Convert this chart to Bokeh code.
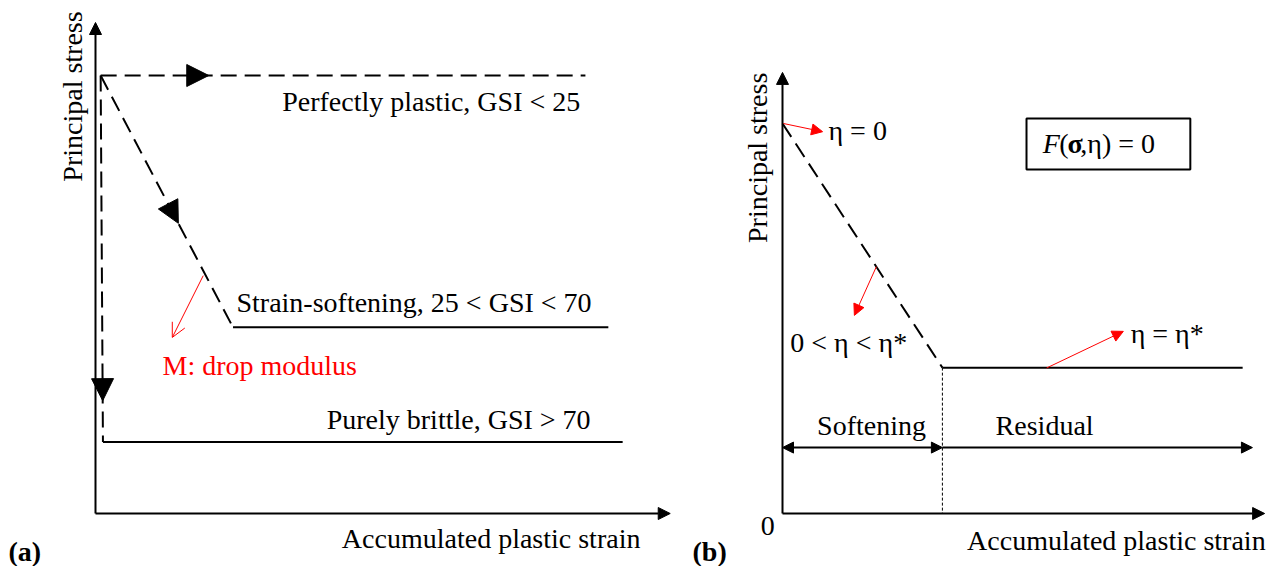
from bokeh.plotting import figure
from bokeh.layouts import row
from bokeh.models import Arrow, NormalHead, OpenHead
from bokeh.core.properties import value
from bokeh.embed import file_html
from bokeh.resources import INLINE

FONT = value("Liberation Serif")
FS = "28px"

# ---------------- Panel (a): normalised units (strain 0-100, stress 0-100) ----------------
a_axis_x_end = 100.3
a_axis_y_end = 112.1
a_plastic_x = [0.9, 85.5]
a_plastic_y = [100.0, 100.0]
a_soft_dash_x = [0.9, 24.0]
a_soft_dash_y = [100.0, 42.5]
a_soft_res_x = [24.0, 89.5]
a_soft_res_y = [42.5, 42.5]
a_brit_dash_x = [0.9, 1.3]
a_brit_dash_y = [100.0, 16.3]
a_brit_res_x = [1.3, 92.0]
a_brit_res_y = [16.3, 16.3]
a_arrow_frac = [0.223, 0.587, 0.887]
a_red_x = [18.8, 13.4]
a_red_y = [54.3, 40.2]

a_labels = ["Perfectly plastic, GSI < 25", "Strain-softening, 25 < GSI < 70",
            "Purely brittle, GSI > 70", "Accumulated plastic strain"]
a_label_x = [84.6, 24.6, 86.4, 95.1]
a_label_y = [94.0, 48.2, 21.5, -5.7]
a_label_align = ["right", "left", "right", "right"]
a_red_label = "M: drop modulus"
a_red_label_xy = (11.7, 33.8)
a_ylabel_xy = (-4.0, 95.2)
a_tag_xy = (-15.2, -8.7)

# ---------------- Panel (b) ----------------
b_axis_x_end = 98.6
b_axis_y_end = 113.1
b_soft_x = [0.0, 32.7]
b_soft_y = [100.0, 37.4]
b_res_x = [32.7, 94.1]
b_res_y = [37.4, 37.4]
b_split_x = 32.7
b_dim_y = 16.9
b_dim_end = 96.1
b_red_start_x = [0.2, 19.2, 54.0]
b_red_start_y = [100.0, 63.3, 37.3]
b_red_end_x = [8.2, 14.7, 69.7]
b_red_end_y = [97.9, 50.8, 46.7]
b_labels = ["η = 0", "0 < η < η*", "η = η*"]
b_label_x = [9.4, 1.6, 71.2]
b_label_y = [98.2, 43.8, 46.2]
b_zone_labels = ["Softening", "Residual"]
b_zone_x = [18.2, 53.6]
b_zone_y = [22.6, 22.6]
b_box = (49.9, 83.4, 88.2, 101.3)  # left, right, bottom, top
b_eq_y = 94.9
b_eq_parts = ["F", "(", "σ", ",η) = 0"]
b_eq_x = [53.2, 56.6, 58.3, 60.9]
b_eq_style = ["italic", "normal", "bold", "normal"]
b_zero_xy = (-3.0, -3.1)
b_xlabel_xy = (98.8, -6.9)
b_ylabel_xy = (-5.1, 91.2)
b_tag_xy = (-18.4, -9.7)


def make_fig(px_left, px_right, ox, oy, sx, sy):
    w = px_right - px_left
    x0 = (px_left - ox) / sx
    x1 = (px_right - ox) / sx
    y0 = (oy - 566) / sy
    y1 = oy / sy
    p = figure(width=w, height=566, x_range=(x0, x1), y_range=(y0, y1),
               output_backend="svg", toolbar_location=None,
               x_axis_type=None, y_axis_type=None, min_border=0)
    p.outline_line_color = None
    p.background_fill_color = "white"
    p.border_fill_color = "white"
    return p


def axes_arrows(p, xe, ye):
    p.add_layout(Arrow(end=NormalHead(size=12, fill_color="black", line_color="black"),
                       x_start=0, y_start=0, x_end=xe, y_end=0,
                       line_width=2, line_color="black"))
    p.add_layout(Arrow(end=NormalHead(size=12, fill_color="black", line_color="black"),
                       x_start=0, y_start=0, x_end=0, y_end=ye,
                       line_width=2, line_color="black"))


def head_on(p, xs, ys, frac, size):
    tx = xs[0] + frac * (xs[1] - xs[0])
    ty = ys[0] + frac * (ys[1] - ys[0])
    bx = xs[0] + (frac - 0.01) * (xs[1] - xs[0])
    by = ys[0] + (frac - 0.01) * (ys[1] - ys[0])
    p.add_layout(Arrow(end=NormalHead(size=size, fill_color="black", line_color="black"),
                       x_start=bx, y_start=by, x_end=tx, y_end=ty,
                       line_alpha=0))


def txt(p, x, y, t, align="left", color="black", style="normal", angle=0.0, size=FS):
    p.text(x=[x], y=[y], text=[t], text_font=FONT, text_font_size=size,
           text_font_style=style, text_align=align, text_baseline="middle",
           text_color=color, angle=angle)


DASH = "16 8"

# ---------- figure (a) ----------
pa = make_fig(0, 688, 95, 513, 5.73, 4.38)
axes_arrows(pa, a_axis_x_end, a_axis_y_end)
pa.line(a_plastic_x, a_plastic_y, line_color="black", line_width=2, line_dash=DASH)
pa.line(a_soft_dash_x, a_soft_dash_y, line_color="black", line_width=2, line_dash=DASH)
pa.line(a_brit_dash_x, a_brit_dash_y, line_color="black", line_width=2, line_dash=DASH)
pa.line(a_soft_res_x, a_soft_res_y, line_color="black", line_width=2)
pa.line(a_brit_res_x, a_brit_res_y, line_color="black", line_width=2)
head_on(pa, a_plastic_x, a_plastic_y, a_arrow_frac[0], 22)
head_on(pa, a_soft_dash_x, a_soft_dash_y, a_arrow_frac[1], 22)
head_on(pa, a_brit_dash_x, a_brit_dash_y, a_arrow_frac[2], 22)
pa.add_layout(Arrow(end=OpenHead(size=14, line_color="red", line_width=1),
                    x_start=a_red_x[0], y_start=a_red_y[0], x_end=a_red_x[1], y_end=a_red_y[1],
                    line_color="red", line_width=1))
for t, x, y, al in zip(a_labels, a_label_x, a_label_y, a_label_align):
    txt(pa, x, y, t, align=al)
txt(pa, a_red_label_xy[0], a_red_label_xy[1], a_red_label, color="red")
txt(pa, a_ylabel_xy[0], a_ylabel_xy[1], "Principal stress", align="center", angle=1.5707963)
txt(pa, a_tag_xy[0], a_tag_xy[1], "(a)", style="bold")

# ---------- figure (b) ----------
pb = make_fig(688, 1267, 782, 513, 4.89, 3.9)
axes_arrows(pb, b_axis_x_end, b_axis_y_end)
pb.line(b_soft_x, b_soft_y, line_color="black", line_width=2, line_dash=DASH)
pb.line(b_res_x, b_res_y, line_color="black", line_width=2)
pb.line([b_split_x, b_split_x], [b_res_y[0], 0], line_color="black", line_width=1, line_dash="3 2")
pb.add_layout(Arrow(start=NormalHead(size=11, fill_color="black", line_color="black"),
                    end=NormalHead(size=11, fill_color="black", line_color="black"),
                    x_start=0, y_start=b_dim_y, x_end=b_split_x, y_end=b_dim_y,
                    line_width=2, line_color="black"))
pb.add_layout(Arrow(end=NormalHead(size=11, fill_color="black", line_color="black"),
                    x_start=b_split_x, y_start=b_dim_y, x_end=b_dim_end, y_end=b_dim_y,
                    line_width=2, line_color="black"))
for i in range(3):
    pb.add_layout(Arrow(end=NormalHead(size=11, fill_color="red", line_color="red"),
                        x_start=b_red_start_x[i], y_start=b_red_start_y[i],
                        x_end=b_red_end_x[i], y_end=b_red_end_y[i],
                        line_color="red", line_width=1))
for t, x, y in zip(b_labels, b_label_x, b_label_y):
    txt(pb, x, y, t)
for t, x, y in zip(b_zone_labels, b_zone_x, b_zone_y):
    txt(pb, x, y, t, align="center")
pb.quad(left=[b_box[0]], right=[b_box[1]], bottom=[b_box[2]], top=[b_box[3]],
        fill_color=None, line_color="black", line_width=2)
for t, x, st in zip(b_eq_parts, b_eq_x, b_eq_style):
    txt(pb, x, b_eq_y, t, style=st)
txt(pb, b_zero_xy[0], b_zero_xy[1], "0", align="center")
txt(pb, b_xlabel_xy[0], b_xlabel_xy[1], "Accumulated plastic strain", align="right")
txt(pb, b_ylabel_xy[0], b_ylabel_xy[1], "Principal stress", align="center", angle=1.5707963)
txt(pb, b_tag_xy[0], b_tag_xy[1], "(b)", style="bold")

layout = row(pa, pb, spacing=0)
open("out.html", "w").write(file_html(layout, INLINE))
